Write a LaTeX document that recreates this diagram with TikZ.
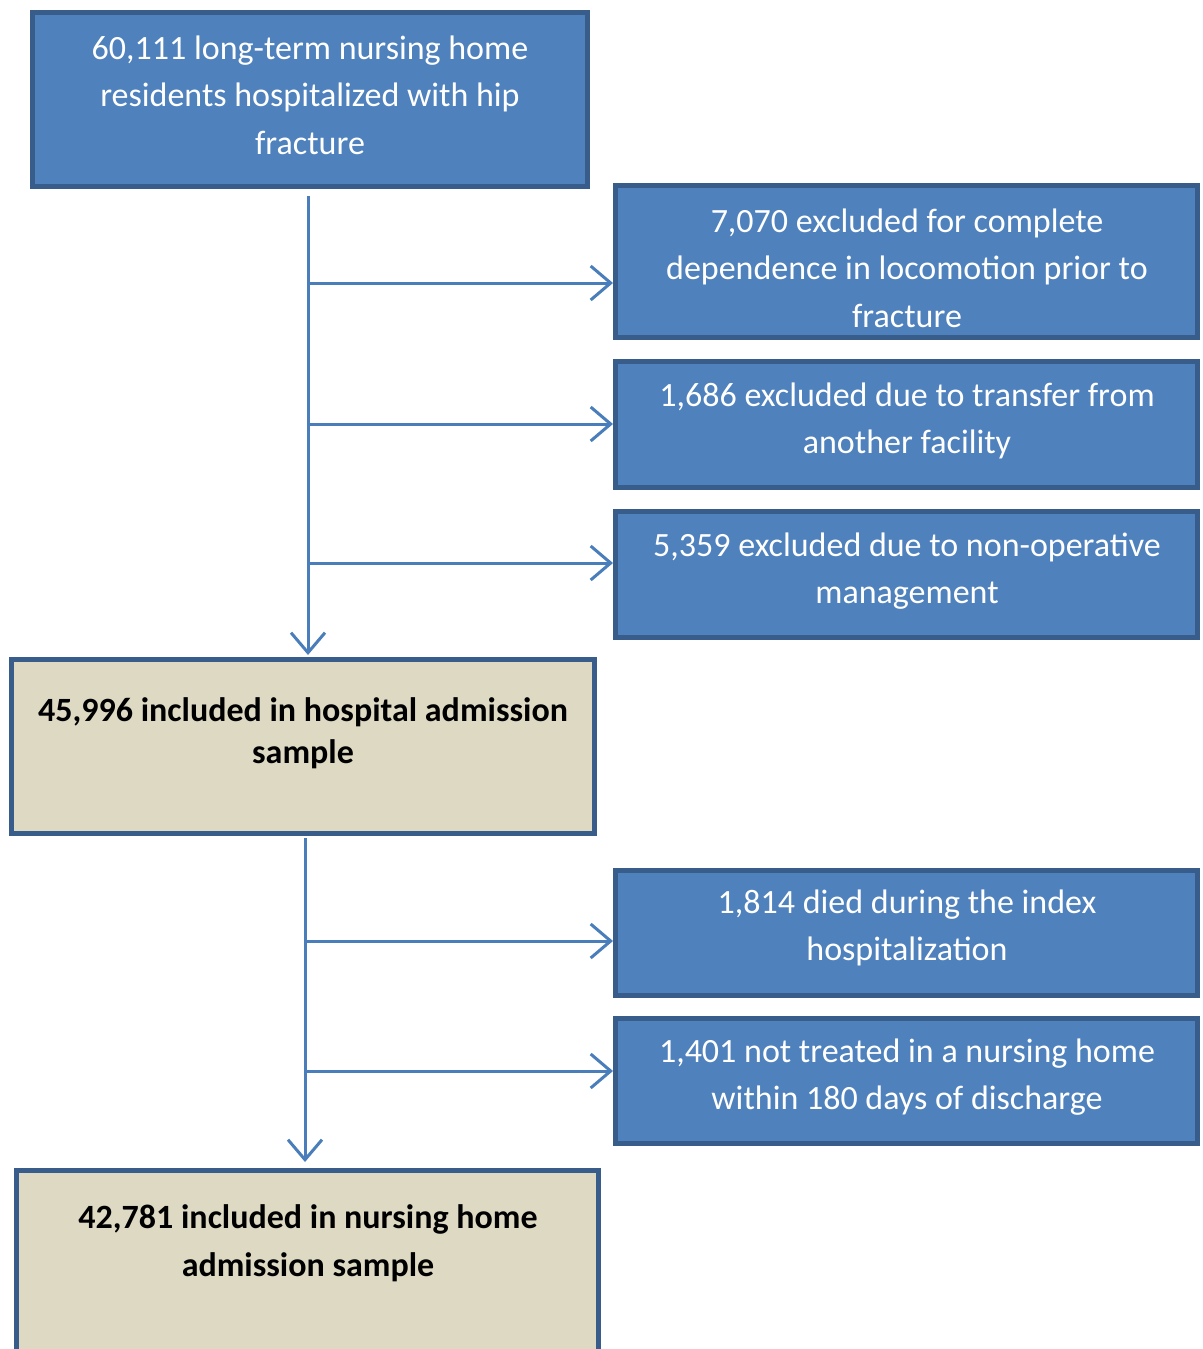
\documentclass[tikz,border=0pt]{standalone}
\usepackage{fontspec}
\setmainfont{Carlito}
\usetikzlibrary{arrows.meta}
\definecolor{boxblue}{HTML}{4F81BD}
\definecolor{boxedge}{HTML}{385D8A}
\definecolor{tan}{HTML}{DDD9C3}
\definecolor{linkblue}{HTML}{4A7EBB}
\tikzset{
  bluebox/.style={draw=boxedge, fill=boxblue, line width=5pt, inner sep=0pt, rectangle},
  tanbox/.style={draw=boxedge, fill=tan, line width=5pt, inner sep=0pt, rectangle},
  wtxt/.style={text=white, align=center, inner sep=0pt, font=\fontsize{34}{47.5}\selectfont},
  btxt/.style={text=black, align=center, inner sep=0pt, font=\bfseries\fontsize{34}{42}\selectfont},
  arr/.style={draw=linkblue, line width=3pt, -{Straight Barb[length=20pt,width=34pt,line width=3pt]}},
}
\begin{document}
\begin{tikzpicture}[x=1pt,y=-1pt]
\useasboundingbox (0,0) rectangle (1202,1349);
\clip (0,0) rectangle (1202,1349);
\fill[white] (0,0) rectangle (1202,1349);
% boxes
\node[bluebox, minimum width=555pt, minimum height=174pt] (b1) at (310,99.5) {};
\node[bluebox, minimum width=582pt, minimum height=152pt] (b2) at (906.5,261.5) {};
\node[bluebox, minimum width=582pt, minimum height=126pt] (b3) at (906.5,424.5) {};
\node[bluebox, minimum width=582pt, minimum height=126pt] (b4) at (906.5,574.5) {};
\node[tanbox, minimum width=583pt, minimum height=174pt] (b5) at (303,746.5) {};
\node[bluebox, minimum width=582pt, minimum height=125pt] (b6) at (906.5,933) {};
\node[bluebox, minimum width=582pt, minimum height=125pt] (b7) at (906.5,1081) {};
\node[tanbox, minimum width=582pt, minimum height=190pt] (b8) at (307.5,1265) {};
% texts
\node[wtxt] (t1) at (310,95) {60,111 long-term nursing home\\residents hospitalized with hip\\fracture};
\node[wtxt] (t2) at (907,268) {7,070 excluded for complete\\dependence in locomotion prior to\\fracture};
\node[wtxt] (t3) at (907,421) {1,686 excluded due to transfer from\\another facility};
\node[wtxt] (t4) at (907,571) {5,359 excluded due to non-operative\\management};
\node[btxt] (t5) at (303,733) {45,996 included in hospital admission\\sample};
\node[wtxt] (t6) at (907,928) {1,814 died during the index\\hospitalization};
\node[wtxt] (t7) at (907,1077) {1,401 not treated in a nursing home\\within 180 days of discharge};
\node[btxt, font=\bfseries\fontsize{34}{48}\selectfont] (t8) at (308,1243) {42,781 included in nursing home\\admission sample};
% connectors
\coordinate (s1) at (308,196);
\coordinate (e1) at (308,655);
\coordinate (j1) at (308,283);
\coordinate (j2) at (308,424);
\coordinate (j3) at (308,563);
\draw[arr] (s1) -- (e1);
\draw[arr] (j1) -- (j1 -| b2.west);
\draw[arr] (j2) -- (j2 -| b3.west);
\draw[arr] (j3) -- (j3 -| b4.west);
\coordinate (s2) at (305,838);
\coordinate (e2) at (305,1162);
\coordinate (k1) at (305,941);
\coordinate (k2) at (305,1071);
\draw[arr] (s2) -- (e2);
\draw[arr] (k1) -- (k1 -| b6.west);
\draw[arr] (k2) -- (k2 -| b7.west);
\end{tikzpicture}
\end{document}
